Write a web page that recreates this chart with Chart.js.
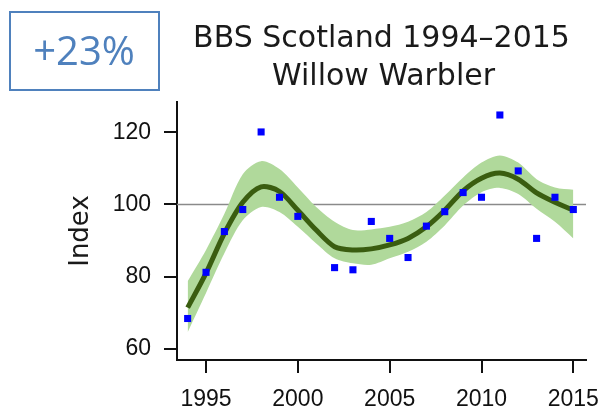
<!DOCTYPE html>
<html lang="en">
<head>
    <meta charset="UTF-8">
    <title>BBS Scotland 1994–2015 Willow Warbler</title>
    <script src="https://cdn.jsdelivr.net/npm/chart.js"></script>
    <style>
        body {
            margin: 0;
            background: #ffffff;
        }
        #wrap {
            width: 608px;
            height: 413px;
        }
    </style>
</head>
<body>
    <div id="wrap">
        <canvas id="bbsChart" width="608" height="413"></canvas>
    </div>

    <script>
        const years = [1994, 1995, 1996, 1997, 1998, 1999, 2000, 2001, 2002, 2003, 2004,
                       2005, 2006, 2007, 2008, 2009, 2010, 2011, 2012, 2013, 2014, 2015];
        // annual index (no survey in 2001)
        const annualIndex = [68.4, 81.2, 92.5, 98.6, 120.1, 102, 96.7, null, 82.5, 81.9, 95.3,
                             90.6, 85.3, 94, 98, 103.3, 102, 124.8, 109.3, 90.6, 102, 98.6];
        const smoothed = [71.4, 81, 92, 100.6, 104.9, 103.6, 98.4, 92.9, 88.3, 87.4, 87.7,
                          88.8, 90.6, 93.8, 98.4, 103.8, 107.3, 108.7, 107, 103.2, 100.6, 98.4];
        const upperCI = [78.7, 87.4, 97.4, 108.4, 112, 109.8, 104.7, 99.3, 95.2, 92.9, 93.1,
                         93.8, 95.2, 97.9, 102.5, 107.5, 111.6, 113.6, 111.6, 107, 104.7, 104.1];
        const lowerCI = [64.6, 75.5, 86.5, 95.6, 99.3, 97.9, 93.8, 89.2, 85.1, 83.7, 83.3,
                         85.1, 86.9, 89.7, 94.2, 99.7, 103.4, 104.6, 102.9, 98.8, 95.2, 90.6];
        const xTicks = [1995, 2000, 2005, 2010, 2015];
        const yTicks = [60, 80, 100, 120];
        const baseline = 100;
        const titleLines = ['BBS Scotland 1994–2015', 'Willow Warbler'];
        const changeLabel = '+23%';

        const toPoints = (arr) => years.map((yr, i) => ({ x: yr, y: arr[i] }));

        // title, the "+23%" box and the 100 reference line
        const decorations = {
            id: 'decorations',
            beforeDatasetsDraw(chart) {
                const { ctx, chartArea, scales } = chart;
                const y = scales.y.getPixelForValue(baseline);
                ctx.save();
                ctx.strokeStyle = '#8a8a8a';
                ctx.lineWidth = 1.5;
                ctx.beginPath();
                ctx.moveTo(chartArea.left, y);
                ctx.lineTo(chartArea.right, y);
                ctx.stroke();
                ctx.restore();
            },
            afterDraw(chart) {
                const { ctx, chartArea } = chart;
                const cx = (chartArea.left + chartArea.right) / 2;
                ctx.save();
                ctx.fillStyle = '#1a1a1a';
                ctx.font = "30px 'DejaVu Sans'";
                ctx.textAlign = 'center';
                ctx.textBaseline = 'alphabetic';
                ctx.fillText(titleLines[0], cx, 47);
                ctx.fillText(titleLines[1], cx + 2, 85);

                ctx.strokeStyle = '#4f81bd';
                ctx.lineWidth = 2;
                ctx.strokeRect(10, 12, 149, 78);
                ctx.fillStyle = '#4f81bd';
                ctx.font = "40px 'Open Sans'";
                ctx.fillText(changeLabel, 84, 65);
                ctx.restore();
            }
        };

        new Chart(document.getElementById('bbsChart'), {
            type: 'line',
            data: {
                datasets: [
                    {
                        label: 'Annual index',
                        data: toPoints(annualIndex),
                        showLine: false,
                        pointStyle: 'rect',
                        pointRadius: 5,
                        pointBorderWidth: 0,
                        pointBackgroundColor: '#0000ff',
                        order: 0
                    },
                    {
                        label: 'Smoothed trend',
                        data: toPoints(smoothed),
                        borderColor: '#3a5d10',
                        borderWidth: 5,
                        pointRadius: 0,
                        tension: 0.3,
                        fill: false,
                        order: 1
                    },
                    {
                        label: 'Upper limit',
                        data: toPoints(upperCI),
                        borderWidth: 0,
                        pointRadius: 0,
                        tension: 0.3,
                        backgroundColor: '#b0d99b',
                        fill: '+1',
                        order: 2
                    },
                    {
                        label: 'Lower limit',
                        data: toPoints(lowerCI),
                        borderWidth: 0,
                        pointRadius: 0,
                        tension: 0.3,
                        fill: false,
                        order: 3
                    }
                ]
            },
            options: {
                responsive: false,
                animation: false,
                layout: {
                    padding: { top: 102, right: 22, left: 0, bottom: 0 }
                },
                plugins: {
                    legend: { display: false },
                    tooltip: { enabled: false }
                },
                scales: {
                    x: {
                        type: 'linear',
                        min: 1993.42,
                        max: 2015.69,
                        afterBuildTicks(scale) {
                            scale.ticks = xTicks.map(v => ({ value: v }));
                        },
                        afterFit(scale) {
                            scale.height = 53;
                            scale.paddingLeft = 0;
                            scale.paddingRight = 0;
                        },
                        ticks: {
                            color: '#111',
                            font: { family: 'Liberation Sans', size: 23 },
                            padding: 13,
                            maxRotation: 0,
                            autoSkip: false,
                            callback: v => String(v)
                        },
                        grid: {
                            drawOnChartArea: false,
                            drawTicks: true,
                            tickLength: 13,
                            color: '#111',
                            lineWidth: 2
                        },
                        border: { display: true, color: '#111', width: 2 }
                    },
                    y: {
                        min: 56.9,
                        max: 128.4,
                        afterBuildTicks(scale) {
                            scale.ticks = yTicks.map(v => ({ value: v }));
                        },
                        afterFit(scale) {
                            scale.width = 177;
                        },
                        ticks: {
                            color: '#111',
                            font: { family: 'Liberation Sans', size: 23 },
                            padding: 13
                        },
                        grid: {
                            drawOnChartArea: false,
                            drawTicks: true,
                            tickLength: 13,
                            color: '#111',
                            lineWidth: 2
                        },
                        border: { display: true, color: '#111', width: 2 },
                        title: {
                            display: true,
                            text: 'Index',
                            color: '#1a1a1a',
                            font: { family: 'DejaVu Sans', size: 26 },
                            padding: { top: 66, bottom: 0 }
                        }
                    }
                }
            },
            plugins: [decorations]
        });
    </script>
</body>
</html>
